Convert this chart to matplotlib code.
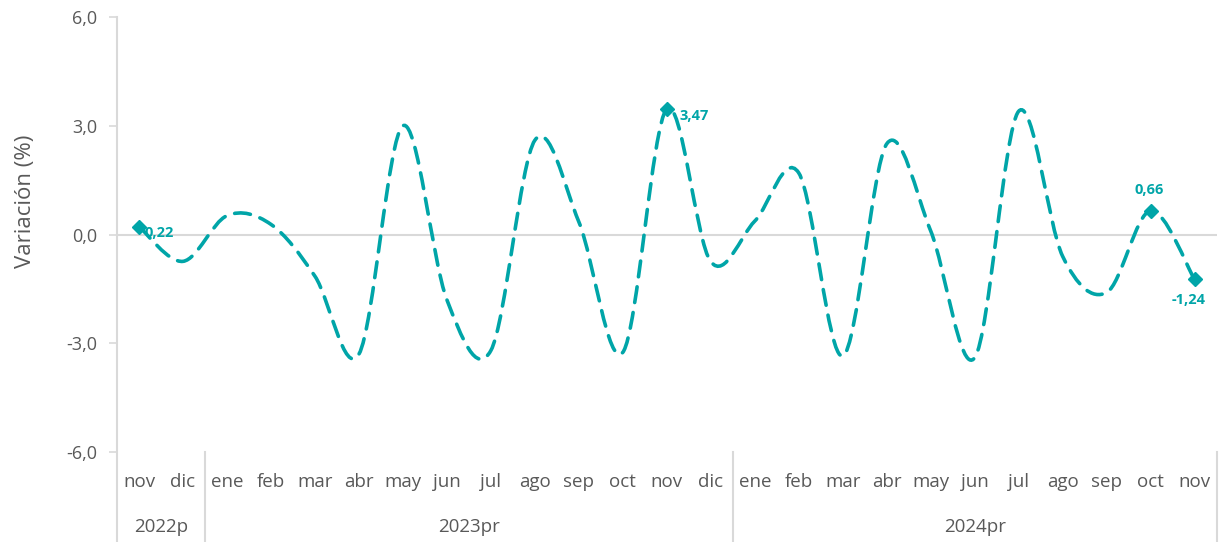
import numpy as np
import matplotlib.pyplot as plt
from matplotlib.path import Path
from matplotlib.patches import PathPatch

plt.rcParams['font.family'] = ['Open Sans', 'DejaVu Sans']

months = ['nov', 'dic', 'ene', 'feb', 'mar', 'abr', 'may', 'jun', 'jul', 'ago', 'sep', 'oct', 'nov',
          'dic', 'ene', 'feb', 'mar', 'abr', 'may', 'jun', 'jul', 'ago', 'sep', 'oct', 'nov']
values = [0.22, -0.74, 0.52, 0.28, -1.15, -3.3, 3.0, -1.8, -3.2, 2.6, 0.35, -3.25, 3.47,
          -0.75, 0.37, 1.7, -3.35, 2.5, 0.1, -3.4, 3.4, -0.6, -1.6, 0.66, -1.24]
years = ['2022p', '2023pr', '2024pr']
year_counts = [2, 12, 11]
labeled = {0: '0,22', 12: '3,47', 23: '0,66', 24: '-1,24'}

teal = '#00A5A8'
grey_txt = '#595959'
grey_line = '#D9D9D9'

fig = plt.figure(figsize=(12.19, 5.42), dpi=100)
ax = fig.add_axes([0.096, 0.166, 0.902, 0.8026])

x = np.arange(len(values))
y = np.array(values)

# smoothed line like excel (catmull-rom as cubic bezier)
pts = np.column_stack([x, y])
verts = [pts[0]]
codes = [Path.MOVETO]
n = len(pts)
for i in range(n - 1):
    p0 = pts[max(i - 1, 0)]
    p1 = pts[i]
    p2 = pts[i + 1]
    p3 = pts[min(i + 2, n - 1)]
    c1 = p1 + (p2 - p0) / 6.0
    c2 = p2 - (p3 - p1) / 6.0
    verts += [c1, c2, p2]
    codes += [Path.CURVE4] * 3
patch = PathPatch(Path(verts, codes), facecolor='none', edgecolor=teal, lw=2.6,
                  linestyle=(0, (4.4, 2.8)), capstyle='round', zorder=3)
ax.add_patch(patch)

for i in labeled:
    ax.plot(x[i], y[i], marker='D', color=teal, ms=7, zorder=4)
ax.annotate(labeled[0], (x[0], y[0]), xytext=(4, -5), textcoords='offset points',
            color=teal, fontsize=10.5, fontweight='bold', ha='left', va='center')
ax.annotate(labeled[12], (x[12], y[12]), xytext=(9, -5), textcoords='offset points',
            color=teal, fontsize=10.5, fontweight='bold', ha='left', va='center')
ax.annotate(labeled[23], (x[23], y[23]), xytext=(-1, 10), textcoords='offset points',
            color=teal, fontsize=10.5, fontweight='bold', ha='center', va='bottom')
ax.annotate(labeled[24], (x[24], y[24]), xytext=(-4, -10), textcoords='offset points',
            color=teal, fontsize=10.5, fontweight='bold', ha='center', va='top')

ax.axhline(0, color=grey_line, lw=1.5, zorder=1)

ax.set_xlim(-0.5, len(values) - 0.5)
ax.set_ylim(-6, 6)
ax.set_yticks([-6, -3, 0, 3, 6])
ax.set_yticklabels([f'{v:.1f}'.replace('.', ',') for v in [-6, -3, 0, 3, 6]])
ax.tick_params(axis='y', colors=grey_line, labelcolor=grey_txt, labelsize=13, length=6, width=1.2, pad=8)
ax.set_xticks([])
for s in ['top', 'right', 'bottom', 'left']:
    ax.spines[s].set_visible(False)
ax.plot([-0.5, -0.5], [6, -8.5], color=grey_line, lw=1.5, clip_on=False)
fig.text(0.021, 1 - 201 / 542, 'Variación (%)', rotation=90, color=grey_txt, fontsize=16,
         ha='center', va='center')

trans = ax.get_xaxis_transform()
for i, m in enumerate(months):
    ax.text(x[i], -0.07, m, transform=trans, ha='center', va='center', fontsize=13.5, color=grey_txt)
start = -0.5
for yr, c in zip(years, year_counts):
    ax.text(start + c / 2, -0.173, yr, transform=trans, ha='center', va='center', fontsize=13.5, color=grey_txt)
    start += c
    ax.plot([start, start], [0, -0.21], transform=trans, color=grey_line, lw=1.5, clip_on=False)

fig.savefig('out.png', dpi=100)
